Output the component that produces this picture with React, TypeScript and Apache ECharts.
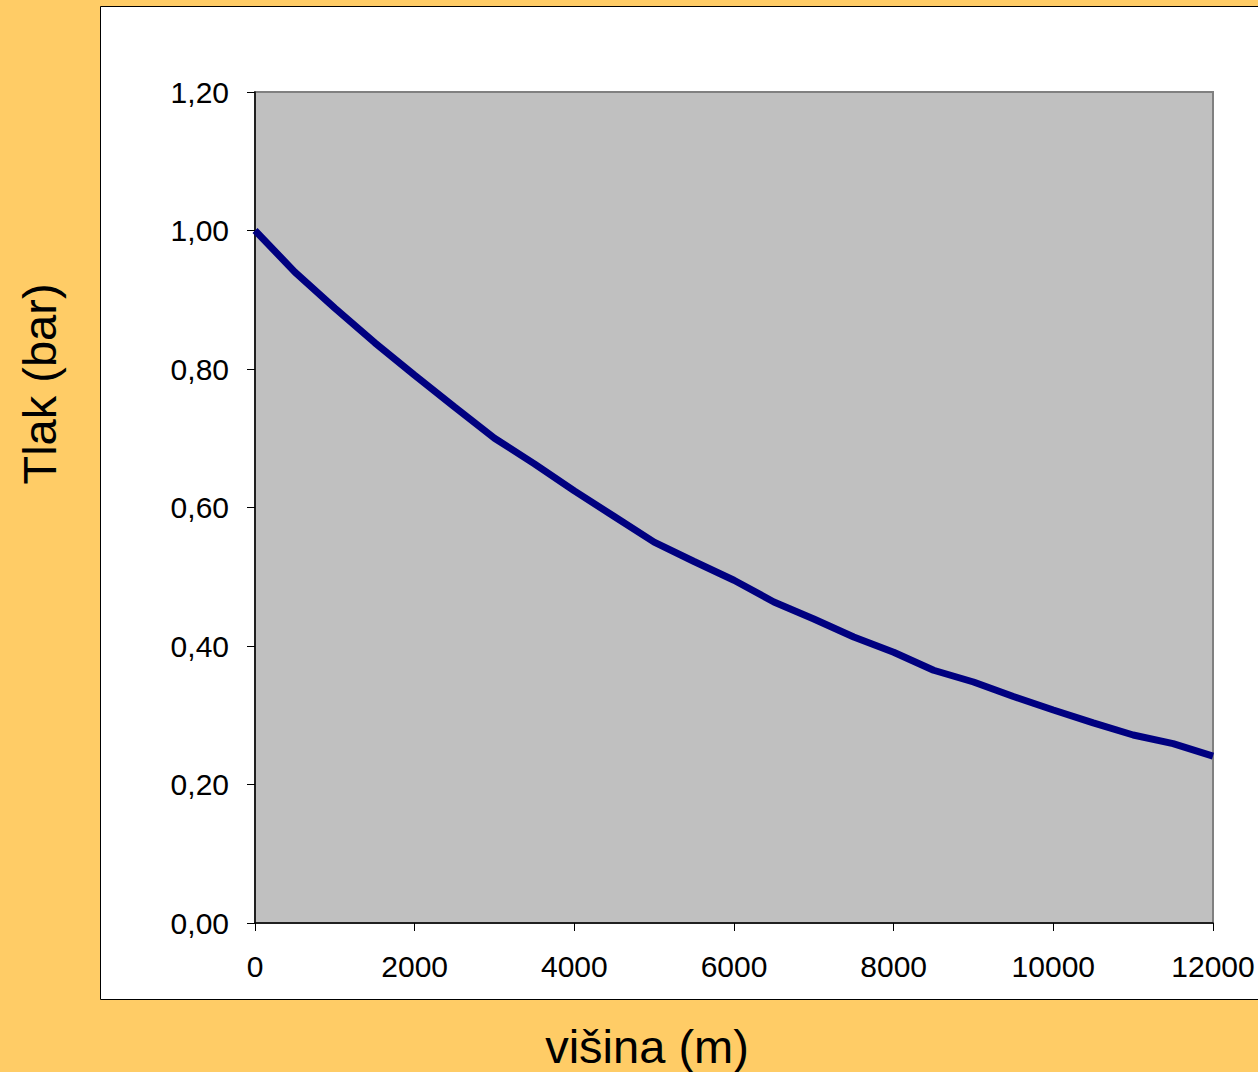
import React, { useEffect, useRef } from "react";
import * as echarts from "echarts";

const altitudes = [0, 500, 1000, 1500, 2000, 2500, 3000, 3500, 4000, 4500, 5000, 5500, 6000, 6500, 7000, 7500, 8000, 8500, 9000, 9500, 10000, 10500, 11000, 11500, 12000];
const pressures = [1.0, 0.94, 0.888, 0.838, 0.791, 0.745, 0.7, 0.663, 0.624, 0.587, 0.55, 0.522, 0.495, 0.4635, 0.439, 0.413, 0.391, 0.365, 0.348, 0.327, 0.3076, 0.289, 0.2715, 0.259, 0.241];
const xTitle = "višina (m)";
const yTitle = "Tlak (bar)";

export default function App() {
  const ref = useRef<HTMLDivElement>(null);
  useEffect(() => {
    if (!ref.current) return;
    const chart = echarts.init(ref.current, null, { renderer: "svg" });
    const font = "'Liberation Sans', Arial, sans-serif";
    chart.setOption({
      animation: false,
      backgroundColor: "#FFCC66",
      graphic: [
        {
          type: "rect",
          shape: { x: 100.5, y: 6.5, width: 1200, height: 993 },
          style: { fill: "#FFFFFF", stroke: "#000000", lineWidth: 1 },
          z: -10,
        },
        {
          type: "text",
          x: 647,
          y: 1046,
          style: { text: xTitle, font: `47px ${font}`, fill: "#000", align: "center", verticalAlign: "middle" },
        },
        {
          type: "text",
          x: 39,
          y: 384,
          rotation: Math.PI / 2,
          style: { text: yTitle, font: `47px ${font}`, fill: "#000", align: "center", verticalAlign: "middle" },
        },
      ],
      grid: {
        left: 255,
        top: 92,
        width: 958,
        height: 831,
        show: true,
        backgroundColor: "#C0C0C0",
        borderColor: "#808080",
        borderWidth: 2,
      },
      xAxis: {
        type: "value",
        min: 0,
        max: 12000,
        interval: 2000,
        axisLine: { show: true, lineStyle: { color: "#000", width: 1.5 } },
        axisTick: { show: true, inside: false, length: 8, lineStyle: { color: "#000" } },
        splitLine: { show: false },
        axisLabel: {
          color: "#000",
          fontSize: 30,
          fontFamily: font,
          margin: 28,
          formatter: (v: number) => String(v),
        },
      },
      yAxis: {
        type: "value",
        min: 0,
        max: 1.2,
        interval: 0.2,
        axisLine: { show: true, lineStyle: { color: "#000", width: 1.5 } },
        axisTick: { show: true, inside: false, length: 8, lineStyle: { color: "#000" } },
        splitLine: { show: false },
        axisLabel: {
          color: "#000",
          fontSize: 30,
          fontFamily: font,
          margin: 26,
          padding: [0, 0, 5, 0],
          formatter: (v: number) => v.toFixed(2).replace(".", ","),
        },
      },
      series: [
        {
          type: "line",
          data: altitudes.map((a, i) => [a, pressures[i]]),
          symbol: "none",
          lineStyle: { color: "#000080", width: 7 },
          clip: false,
        },
      ],
    });
    return () => chart.dispose();
  }, []);
  return <div ref={ref} style={{ position: "fixed", left: 0, top: 0, width: 1258, height: 1072 }} />;
}
